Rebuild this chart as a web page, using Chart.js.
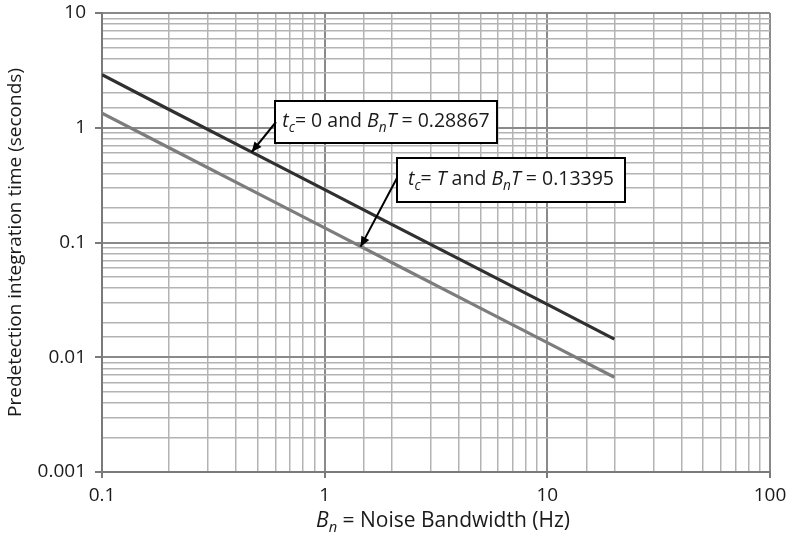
<!DOCTYPE html>
<html><head><meta charset="utf-8">
<script src="https://cdn.jsdelivr.net/npm/chart.js@4/dist/chart.umd.min.js"></script>
<style>html,body{margin:0;padding:0;background:#fff}#wrap{width:798px;height:542px;position:relative}</style>
</head><body><div id="wrap"><canvas id="c" width="798" height="542" style="width:798px;height:542px"></canvas></div>
<script>
// Data
const bandwidthHz = [0.1, 0.2, 0.5, 1, 2, 5, 10, 20];
const timeTc0 = [2.90, 1.443, 0.577, 0.289, 0.144, 0.0577, 0.0289, 0.0144];
const timeTcT = [1.340, 0.670, 0.268, 0.134, 0.067, 0.0268, 0.0134, 0.0067];
const xTickLabels = ['0.1', '1', '10', '100'];
const yTickLabels = ['0.001', '0.01', '0.1', '1', '10'];
const seriesNames = ['tc = 0', 'tc = T'];

const FONT = '"Open Sans", "Noto Sans", sans-serif';
const TXT = '#1a1a1a';

function isMajor(v){ const l = Math.log10(v); return Math.abs(l - Math.round(l)) < 1e-6; }
function label(v, list){
  if (!isMajor(v)) return '';
  const s = String(Number(v.toPrecision(6)));
  return list.includes(s) ? s : '';
}

// rich text: parts [{t, i:italic, sub:subscript}]
function richWidth(ctx, parts, size){
  let w = 0;
  for (const p of parts){
    const fs = p.sub ? size*0.7 : size;
    ctx.font = (p.i ? 'italic ' : '') + fs + 'px ' + FONT;
    w += ctx.measureText(p.t).width;
  }
  return w;
}
function drawRich(ctx, parts, x, y, size){
  ctx.textBaseline = 'alphabetic';
  ctx.textAlign = 'left';
  for (const p of parts){
    const fs = p.sub ? size*0.7 : size;
    ctx.font = (p.i ? 'italic ' : '') + fs + 'px ' + FONT;
    ctx.fillText(p.t, x, p.sub ? y + size*0.25 : y);
    x += ctx.measureText(p.t).width;
  }
}

const notes = [
  { parts:[{t:'t',i:1},{t:'c',i:1,sub:1},{t:'= 0 and '},{t:'B',i:1},{t:'n',i:1,sub:1},{t:'T',i:1},{t:' = 0.28867'}],
    box:[275,101,497,143], tail:[276,122], tipData:[0.47, 0.614] },
  { parts:[{t:'t',i:1},{t:'c',i:1,sub:1},{t:'= '},{t:'T',i:1},{t:' and '},{t:'B',i:1},{t:'n',i:1,sub:1},{t:'T',i:1},{t:' = 0.13395'}],
    box:[397,158,625,202], tail:[397,178], tipData:[1.45, 0.092] }
];

const annot = {
  id:'annot',
  afterDraw(chart){
    const ctx = chart.ctx, xs = chart.scales.x, ys = chart.scales.y;
    ctx.save();
    for (const n of notes){
      const [x1,y1,x2,y2] = n.box;
      ctx.fillStyle = '#fff';
      ctx.fillRect(x1,y1,x2-x1,y2-y1);
      ctx.strokeStyle = '#000'; ctx.lineWidth = 2;
      ctx.strokeRect(x1,y1,x2-x1,y2-y1);
      ctx.fillStyle = TXT;
      const w = richWidth(ctx, n.parts, 19.5);
      drawRich(ctx, n.parts, (x1+x2)/2 - w/2, (y1+y2)/2 + 5, 19.5);
      // arrow
      const tx = xs.getPixelForValue(n.tipData[0]), ty = ys.getPixelForValue(n.tipData[1]);
      const [sx,sy] = n.tail;
      ctx.strokeStyle = '#000'; ctx.lineWidth = 2;
      ctx.beginPath(); ctx.moveTo(sx,sy); ctx.lineTo(tx,ty); ctx.stroke();
      const a = Math.atan2(ty-sy, tx-sx), L = 11, h = 0.42;
      ctx.fillStyle = '#000';
      ctx.beginPath();
      ctx.moveTo(tx,ty);
      ctx.lineTo(tx - L*Math.cos(a-h), ty - L*Math.sin(a-h));
      ctx.lineTo(tx - L*Math.cos(a+h), ty - L*Math.sin(a+h));
      ctx.closePath(); ctx.fill();
    }
    // x-axis title
    const parts = [{t:'B',i:1},{t:'n',i:1,sub:1},{t:' = Noise Bandwidth (Hz)'}];
    const w = richWidth(ctx, parts, 21);
    const ca = chart.chartArea;
    ctx.fillStyle = TXT;
    drawRich(ctx, parts, (ca.left+ca.right)/2 - w/2 + 7, 527, 21);
    ctx.restore();
  }
};

const gridColor = c => isMajor(c.tick ? c.tick.value : 1) ? '#8a8a8a' : '#b3b3b3';
const gridWidth = c => isMajor(c.tick ? c.tick.value : 1) ? 2 : 1.5;
const tickColor = c => isMajor(c.tick ? c.tick.value : 1) ? '#7a7a7a' : 'rgba(0,0,0,0)';

new Chart(document.getElementById('c'), {
  type:'line',
  data:{
    datasets:[
      { label:seriesNames[0], data: bandwidthHz.map((x,i)=>({x, y:timeTc0[i]})),
        borderColor:'#303030', borderWidth:3.2, pointRadius:0, tension:0, fill:false },
      { label:seriesNames[1], data: bandwidthHz.map((x,i)=>({x, y:timeTcT[i]})),
        borderColor:'#7d7d7d', borderWidth:3.2, pointRadius:0, tension:0, fill:false }
    ]
  },
  options:{
    responsive:false, maintainAspectRatio:false, animation:false, devicePixelRatio:1,
    layout:{ padding:{ top:13, right:28, left:0, bottom:0 } },
    plugins:{ legend:{display:false}, tooltip:{enabled:false} },
    scales:{
      x:{ type:'logarithmic', min:0.1, max:100,
        afterFit(s){ s.height = 70; s.paddingLeft = 0; s.paddingRight = 0; },
        border:{ color:'#7a7a7a', width:2 },
        grid:{ color:gridColor, lineWidth:gridWidth, tickColor:tickColor, tickLength:6 },
        ticks:{ autoSkip:false, maxRotation:0, padding:6, color:TXT, font:{family:FONT, size:19},
          callback:(v)=>label(v, xTickLabels) }
      },
      y:{ type:'logarithmic', min:0.001, max:10,
        afterFit(s){ s.width = 102; s.paddingTop = 0; s.paddingBottom = 0; },
        border:{ color:'#7a7a7a', width:2 },
        grid:{ color:gridColor, lineWidth:gridWidth, tickColor:tickColor, tickLength:7 },
        ticks:{ autoSkip:false, padding:9, color:TXT, font:{family:FONT, size:19},
          callback:(v)=>label(v, yTickLabels) },
        title:{ display:true, text:'Predetection integration time (seconds)', color:TXT,
          font:{family:FONT, size:19}, padding:{top:4,bottom:0} }
      }
    }
  },
  plugins:[annot]
});
</script>
</body></html>
